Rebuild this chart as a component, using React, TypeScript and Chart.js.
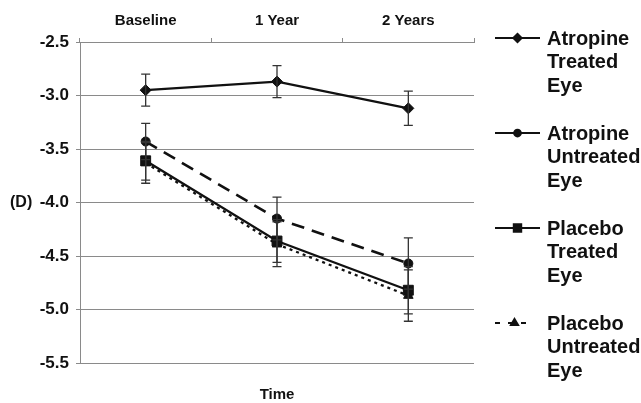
import React, { useEffect, useRef } from "react";
import { Chart, registerables } from "chart.js";
import { drawPoint } from "chart.js/helpers";

Chart.register(...registerables);

const categories = ["Baseline", "1 Year", "2 Years"];
const seriesNames = [
  "Atropine Treated Eye",
  "Atropine Untreated Eye",
  "Placebo Treated Eye",
  "Placebo Untreated Eye",
];
const atropineTreated = [-2.95, -2.87, -3.12];
const atropineTreatedErr = [0.15, 0.15, 0.16];
const atropineUntreated = [-3.43, -4.15, -4.57];
const atropineUntreatedErr = [0.17, 0.2, 0.24];
const placeboTreated = [-3.61, -4.36, -4.82];
const placeboTreatedErr = [0.18, 0.2, 0.22];
const placeboUntreated = [-3.63, -4.39, -4.87];
const placeboUntreatedErr = [0.19, 0.21, 0.24];
const yMin = -5.5;
const yMax = -2.5;
const yStep = 0.5;
const yUnitLabel = "(D)";
const xTitle = "Time";

const errors = [atropineTreatedErr, atropineUntreatedErr, placeboTreatedErr, placeboUntreatedErr];

const FONT = "'Liberation Sans', Arial, Helvetica, sans-serif";
const INK = "#111111";
const GRID = "#8a8a8a";

const errorBarPlugin = {
  id: "errorBars",
  afterDatasetsDraw(chart: any) {
    const ctx = chart.ctx;
    const xs = chart.scales.x;
    const ys = chart.scales.y;
    ctx.save();
    ctx.strokeStyle = "#333";
    ctx.lineWidth = 1.3;
    chart.data.datasets.forEach((ds: any, i: number) => {
      ds.data.forEach((v: number, j: number) => {
        const e = errors[i][j];
        const x = xs.getPixelForValue(j);
        const yt = ys.getPixelForValue(v + e);
        const yb = ys.getPixelForValue(v - e);
        const cap = 4.5;
        ctx.beginPath();
        ctx.moveTo(x, yt);
        ctx.lineTo(x, yb);
        ctx.moveTo(x - cap, yt);
        ctx.lineTo(x + cap, yt);
        ctx.moveTo(x - cap, yb);
        ctx.lineTo(x + cap, yb);
        ctx.stroke();
      });
    });
    ctx.restore();
  },
};

const textPlugin = {
  id: "extraText",
  afterDraw(chart: any) {
    const ctx = chart.ctx;
    const area = chart.chartArea;
    const ys = chart.scales.y;
    ctx.save();
    ctx.fillStyle = INK;
    ctx.textBaseline = "middle";
    // unit label
    ctx.font = `bold 16px ${FONT}`;
    ctx.textAlign = "left";
    ctx.fillText(yUnitLabel, 10, ys.getPixelForValue(-4.0));
    // x title
    ctx.font = `bold 15px ${FONT}`;
    ctx.textAlign = "center";
    ctx.fillText(xTitle, (area.left + area.right) / 2, area.bottom + 32);

    // legend
    const lx0 = area.right + 21;
    const lx1 = lx0 + 45;
    const tx = lx1 + 7;
    ctx.font = `bold 20px ${FONT}`;
    ctx.textAlign = "left";
    chart.data.datasets.forEach((ds: any, i: number) => {
      const y0 = area.top - 4 + i * 95;
      const mx = (lx0 + lx1) / 2;
      ctx.save();
      ctx.strokeStyle = INK;
      ctx.lineWidth = 2;
      if (i === 3) {
        ctx.setLineDash([5, 8]);
        ctx.beginPath();
        ctx.moveTo(lx0, y0);
        ctx.lineTo(mx + 12, y0);
        ctx.stroke();
      } else {
        ctx.beginPath();
        ctx.moveTo(lx0, y0);
        ctx.lineTo(lx1, y0);
        ctx.stroke();
      }
      ctx.setLineDash([]);
      ctx.fillStyle = INK;
      ctx.strokeStyle = INK;
      drawPoint(
        ctx,
        { pointStyle: ds.pointStyle, rotation: 0, radius: ds.pointRadius * 0.75, borderWidth: 1 },
        i === 3 ? mx - 3 : mx,
        y0
      );
      ctx.restore();
      const lines = seriesNames[i].split(" ");
      lines.forEach((t, k) => {
        ctx.fillText(t, tx, y0 + 1 + k * 23.5);
      });
    });
    ctx.restore();
  },
};

export default function App() {
  const ref = useRef<HTMLCanvasElement | null>(null);
  useEffect(() => {
    document.body.style.margin = "0";
    const ctx = ref.current!.getContext("2d")!;
    const mk = (label: string, data: number[], style: string, radius: number, dash: number[], width: number) => ({
      label,
      data,
      borderColor: INK,
      backgroundColor: INK,
      pointBackgroundColor: INK,
      pointBorderColor: INK,
      pointStyle: style,
      pointRadius: radius,
      pointBorderWidth: 1,
      borderWidth: width,
      borderDash: dash,
      tension: 0,
      fill: false,
    });
    const chart = new Chart(ctx, {
      type: "line",
      data: {
        labels: categories,
        datasets: [
          mk(seriesNames[0], atropineTreated, "rectRot", 5.5, [], 2.3),
          mk(seriesNames[1], atropineUntreated, "circle", 4.5, [13, 8], 2.6),
          mk(seriesNames[2], placeboTreated, "rect", 7, [], 2.3),
          mk(seriesNames[3], placeboUntreated, "triangle", 5.5, [3, 4], 2.3),
        ] as any,
      },
      options: {
        animation: false,
        responsive: true,
        maintainAspectRatio: false,
        layout: { padding: { left: 0, right: 167, top: 0, bottom: 40 } },
        plugins: { legend: { display: false }, tooltip: { enabled: false } },
        scales: {
          x: {
            position: "top",
            offset: true,
            grid: {
              display: true,
              drawOnChartArea: false,
              drawTicks: true,
              tickLength: 4,
              color: GRID,
              offset: true,
            },
            border: { display: true, color: GRID },
            ticks: { color: INK, font: { family: FONT, size: 15, weight: "bold" }, padding: 8 },
            afterFit(scale: any) {
              scale.height = 42;
            },
          },
          y: {
            min: yMin,
            max: yMax,
            grid: { color: GRID, lineWidth: 1, tickLength: 4 },
            border: { display: true, color: GRID },
            ticks: {
              stepSize: yStep,
              color: INK,
              font: { family: FONT, size: 17, weight: "bold" },
              padding: 7,
              callback: (v: any) => Number(v).toFixed(1),
            },
            afterFit(scale: any) {
              scale.width = 80;
            },
          },
        },
      } as any,
      plugins: [errorBarPlugin, textPlugin],
    });
    return () => chart.destroy();
  }, []);
  return (
    <div style={{ position: "fixed", left: 0, top: 0, width: 641, height: 403, background: "#fff" }}>
      <canvas ref={ref} />
    </div>
  );
}
